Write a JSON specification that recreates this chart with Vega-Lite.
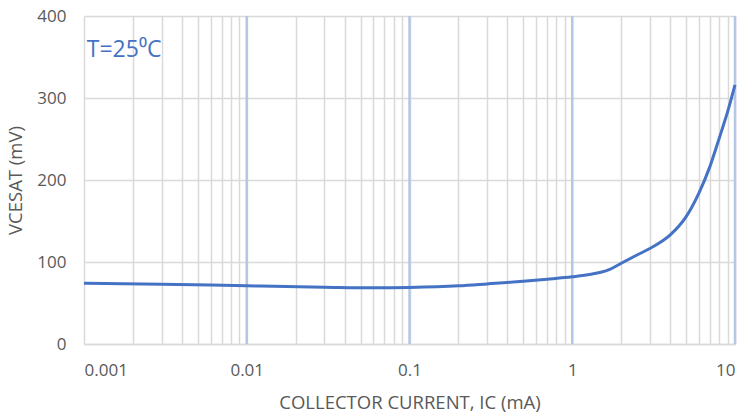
{
  "$schema": "https://vega.github.io/schema/vega-lite/v6.json",
  "autosize": {"type": "none"},
  "width": 651,
  "height": 328,
  "padding": {"left": 84, "top": 16, "right": 11, "bottom": 74},
  "background": "white",
  "config": {
    "view": {"stroke": null},
    "font": "Open Sans",
    "axis": {"labelFont": "Open Sans", "titleFont": "Open Sans", "labelColor": "#595959", "titleColor": "#595959", "labelFontSize": 17, "titleFontSize": 18.5, "titleFontWeight": "normal", "ticks": false, "domain": false, "gridColor": "#d9d9d9", "gridWidth": 1.5, "gridOpacity": 1}
  },
  "datasets": {
    "curve": [
      {"ic": 0.001, "vce": 74},
      {"ic": 0.003, "vce": 73},
      {"ic": 0.01, "vce": 71},
      {"ic": 0.03, "vce": 69.3},
      {"ic": 0.06, "vce": 68.5},
      {"ic": 0.1, "vce": 69},
      {"ic": 0.2, "vce": 71},
      {"ic": 0.3, "vce": 73.3},
      {"ic": 0.5, "vce": 76.4},
      {"ic": 0.7, "vce": 79},
      {"ic": 1, "vce": 82},
      {"ic": 1.3, "vce": 85},
      {"ic": 1.5, "vce": 87.5},
      {"ic": 1.7, "vce": 91},
      {"ic": 2, "vce": 98.5},
      {"ic": 2.5, "vce": 108.5},
      {"ic": 3, "vce": 116.5},
      {"ic": 4, "vce": 133},
      {"ic": 5, "vce": 155},
      {"ic": 6, "vce": 184},
      {"ic": 7, "vce": 216},
      {"ic": 8, "vce": 251},
      {"ic": 9, "vce": 283},
      {"ic": 10, "vce": 316}
    ],
    "decades": [{"ic": 0.01}, {"ic": 0.1}, {"ic": 1}, {"ic": 10}],
    "note": [{"label": "T=25⁰C"}]
  },
  "layer": [
    {
      "data": {"name": "decades"},
      "mark": {"type": "rule", "color": "#b4c7e7", "strokeWidth": 2.5},
      "encoding": {
        "x": {"field": "ic", "type": "quantitative", "scale": {"type": "log", "domain": [0.001, 10], "nice": false},
          "axis": {
            "title": "COLLECTOR CURRENT, IC (mA)",
            "values": [0.001,0.002,0.003,0.004,0.005,0.006,0.007,0.008,0.009,0.01,0.02,0.03,0.04,0.05,0.06,0.07,0.08,0.09,0.1,0.2,0.3,0.4,0.5,0.6,0.7,0.8,0.9,1,2,3,4,5,6,7,8,9,10],
            "labelExpr": "abs(log(datum.value)/LN10 - round(log(datum.value)/LN10)) < 1e-6 ? format(datum.value, '~g') : ''",
            "labelOverlap": false,
            "labelPadding": 18,
            "titlePadding": 15,
            "grid": true,
            "domain": true,
            "domainColor": "#d9d9d9",
            "domainWidth": 1.5
          }},
        "y": {"datum": 0, "type": "quantitative"},
        "y2": {"datum": 400}
      }
    },
    {
      "data": {"name": "curve"},
      "mark": {"type": "line", "color": "#4472c4", "strokeWidth": 3, "interpolate": "monotone"},
      "encoding": {
        "x": {"field": "ic", "type": "quantitative"},
        "y": {"field": "vce", "type": "quantitative", "scale": {"domain": [0, 400], "nice": false},
          "axis": {"title": "VCESAT (mV)", "values": [0, 100, 200, 300, 400], "labelPadding": 18, "titlePadding": 11, "grid": true}}
      }
    },
    {
      "data": {"name": "note"},
      "mark": {"type": "text", "color": "#4472c4", "fontSize": 23, "font": "Open Sans", "align": "left", "baseline": "alphabetic"},
      "encoding": {
        "text": {"field": "label", "type": "nominal"},
        "x": {"datum": 0.00104, "type": "quantitative"},
        "y": {"datum": 350, "type": "quantitative"}
      }
    }
  ]
}
